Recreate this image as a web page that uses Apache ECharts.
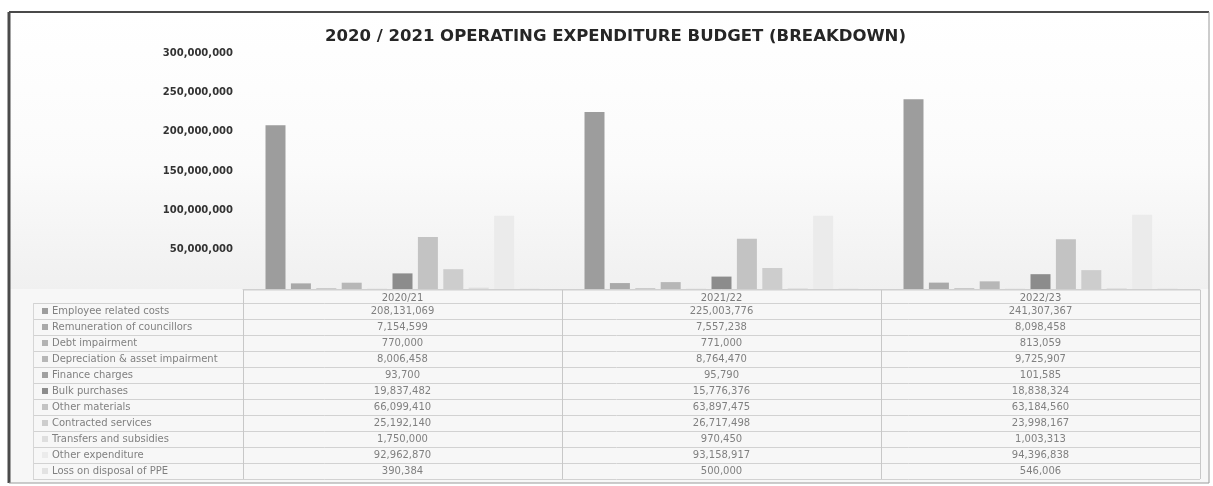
<!DOCTYPE html>
<html>
<head>
<meta charset="utf-8">
<script src="https://cdn.jsdelivr.net/npm/echarts@6/dist/echarts.min.js"></script>
<style>
  html, body { margin: 0; padding: 0; background: #ffffff; }
  #chart { width: 1213px; height: 486px; }
</style>
</head>
<body>
<div id="chart"></div>
<script>
// Financial years shown on the category axis / table header
const years = ['2020/21', '2021/22', '2022/23'];

// Expenditure line items (one bar series each)
const items = [
  'Employee related costs',
  'Remuneration of councillors',
  'Debt impairment',
  'Depreciation & asset impairment',
  'Finance charges',
  'Bulk purchases',
  'Other materials',
  'Contracted services',
  'Transfers and subsidies',
  'Other expenditure',
  'Loss on disposal of PPE'
];

// Budget amounts per year, in item order
const budget2021 = [208131069, 7154599, 770000, 8006458, 93700, 19837482, 66099410, 25192140, 1750000, 92962870, 390384];
const budget2122 = [225003776, 7557238, 771000, 8764470, 95790, 15776376, 63897475, 26717498, 970450, 93158917, 500000];
const budget2223 = [241307367, 8098458, 813059, 9725907, 101585, 18838324, 63184560, 23998167, 1003313, 94396838, 546006];

// Value axis tick settings
const yMax = 300000000;
const yStep = 50000000;

// Grey shades for the series
const shades = ['#9d9d9d', '#a9a9a9', '#b3b3b3', '#b7b7b7', '#a0a0a0', '#8c8c8c',
                '#c3c3c3', '#cdcdcd', '#dedede', '#ebebeb', '#e2e2e2'];

const byYear = [budget2021, budget2122, budget2223];
const fmt = v => v.toLocaleString('en-US');

const chart = echarts.init(document.getElementById('chart'));

const series = items.map((name, i) => ({
  name: name,
  type: 'bar',
  data: byYear.map(arr => arr[i]),
  barWidth: 20,
  barGap: '27%',
  itemStyle: { color: shades[i] },
  emphasis: { disabled: true }
}));

const GRID_LEFT = 243, GRID_RIGHT = 13, GRID_TOP = 53, GRID_BOTTOM = 197;

chart.setOption({
  animation: false,
  backgroundColor: '#ffffff',
  title: {
    text: '2020 / 2021 OPERATING EXPENDITURE BUDGET (BREAKDOWN)',
    left: 320,
    top: 23,
    textStyle: {
      fontFamily: 'DejaVu Sans',
      fontSize: 16.5,
      fontWeight: 900,
      color: '#262626'
    }
  },
  grid: { left: GRID_LEFT, right: GRID_RIGHT, top: GRID_TOP, bottom: GRID_BOTTOM },
  xAxis: {
    type: 'category',
    data: years,
    axisLine: { show: true, lineStyle: { color: '#d0d0d0' } },
    axisTick: { show: false },
    axisLabel: {
      margin: 4,
      fontFamily: 'DejaVu Sans',
      fontSize: 10,
      color: '#7a7a7a'
    }
  },
  yAxis: {
    type: 'value',
    min: 0,
    max: yMax,
    interval: yStep,
    axisLine: { show: false },
    axisTick: { show: false },
    splitLine: { show: false },
    axisLabel: {
      margin: 10,
      fontFamily: 'DejaVu Sans',
      fontSize: 10,
      fontWeight: 'bold',
      color: '#333333',
      formatter: v => (v === 0 ? '' : fmt(v))
    }
  },
  series: series
});

// Data table under the plot, placed on the category axis positions
function buildTable() {
  const g = [];
  const frameTop = 12, frameBottom = 483, frameLeft = 9, frameRight = 1209;
  const plotBottom = 486 - GRID_BOTTOM;
  const headTop = plotBottom + 1;
  const rowTop = 303;
  const rowH = 16;
  const tableLeft = 33;
  const colW = (1213 - GRID_LEFT - GRID_RIGHT) / years.length;
  const tableRight = 1213 - GRID_RIGHT;

  // soft backdrop behind the plot
  g.push({
    type: 'rect', z: -10, silent: true,
    shape: { x: frameLeft, y: frameTop, width: frameRight - frameLeft, height: plotBottom - frameTop },
    style: {
      fill: new echarts.graphic.LinearGradient(0, 0, 0, 1, [
        { offset: 0, color: '#ffffff' },
        { offset: 0.55, color: '#fbfbfb' },
        { offset: 1, color: '#f0f0f0' }
      ])
    }
  });
  // table background
  g.push({
    type: 'rect', z: -10, silent: true,
    shape: { x: frameLeft, y: plotBottom, width: frameRight - frameLeft, height: frameBottom - plotBottom },
    style: { fill: '#f7f7f7' }
  });

  // header row border
  g.push({ type: 'line', silent: true, shape: { x1: GRID_LEFT, y1: headTop, x2: tableRight, y2: headTop }, style: { stroke: '#cfcfcf', lineWidth: 1 } });

  // horizontal row lines
  for (let r = 0; r <= items.length; r++) {
    const y = rowTop + r * rowH + 0.5;
    g.push({ type: 'line', silent: true, shape: { x1: tableLeft, y1: y, x2: tableRight, y2: y }, style: { stroke: '#d2d2d2', lineWidth: 1 } });
  }
  // vertical column lines
  for (let c = 0; c <= years.length; c++) {
    const x = Math.round(GRID_LEFT + c * colW) + 0.5;
    g.push({ type: 'line', silent: true, shape: { x1: x, y1: headTop, x2: x, y2: rowTop + items.length * rowH }, style: { stroke: '#c8c8c8', lineWidth: 1 } });
  }
  g.push({ type: 'line', silent: true, shape: { x1: tableLeft + 0.5, y1: rowTop, x2: tableLeft + 0.5, y2: rowTop + items.length * rowH }, style: { stroke: '#d6d6d6', lineWidth: 1 } });

  // row labels with series markers
  items.forEach((name, i) => {
    const cy = rowTop + i * rowH + rowH / 2;
    g.push({ type: 'rect', silent: true, shape: { x: 42, y: cy - 3, width: 6, height: 6 }, style: { fill: shades[i] } });
    g.push({
      type: 'text', silent: true,
      style: { x: 52, y: cy, text: name, fill: '#808080', font: '10px "DejaVu Sans"', textVerticalAlign: 'middle', verticalAlign: 'middle' }
    });
  });

  // values, centred on each category
  years.forEach((yr, c) => {
    const cx = chart.convertToPixel({ xAxisIndex: 0 }, yr);
    byYear[c].forEach((v, i) => {
      const cy = rowTop + i * rowH + rowH / 2;
      g.push({
        type: 'text', silent: true,
        style: { x: cx, y: cy, text: fmt(v), fill: '#808080', font: '10px "DejaVu Sans"', textAlign: 'center', align: 'center', textVerticalAlign: 'middle', verticalAlign: 'middle' }
      });
    });
  });

  // outer frame
  g.push({ type: 'line', silent: true, shape: { x1: frameLeft, y1: frameTop, x2: frameRight, y2: frameTop }, style: { stroke: '#4a4a4a', lineWidth: 2 } });
  g.push({ type: 'line', silent: true, shape: { x1: frameLeft, y1: frameTop, x2: frameLeft, y2: frameBottom }, style: { stroke: '#4a4a4a', lineWidth: 3 } });
  g.push({ type: 'line', silent: true, shape: { x1: frameRight, y1: frameTop, x2: frameRight, y2: frameBottom }, style: { stroke: '#9a9a9a', lineWidth: 1 } });
  g.push({ type: 'line', silent: true, shape: { x1: frameLeft, y1: frameBottom, x2: frameRight, y2: frameBottom }, style: { stroke: '#9a9a9a', lineWidth: 1 } });

  chart.setOption({ graphic: g });
}
buildTable();
</script>
</body>
</html>
